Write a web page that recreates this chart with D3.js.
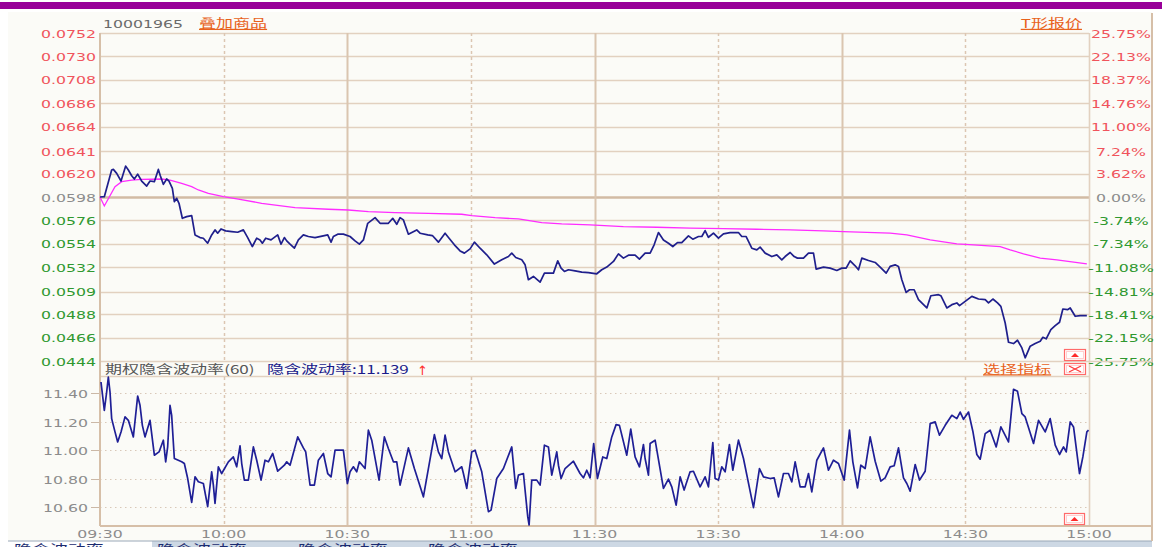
<!DOCTYPE html>
<html><head><meta charset="utf-8">
<script src="https://cdn.jsdelivr.net/npm/d3@7"></script>
<style>html,body{margin:0;padding:0;background:#fff;overflow:hidden}</style>
</head><body><svg id="c" width="1162" height="547"></svg>
<script>
// ---------- data ----------
const timeTickMinutes = [0,30,60,90,120,150,180,210,240];
const timeTickLabels = ["09:30","10:00","10:30","11:00","11:30","13:30","14:00","14:30","15:00"];
const priceTickLabels = ["0.0752","0.0730","0.0708","0.0686","0.0664","0.0641","0.0620","0.0598","0.0576","0.0554","0.0532","0.0509","0.0488","0.0466","0.0444"];
const pctTickLabels = ["25.75%","22.13%","18.37%","14.76%","11.00%","7.24%","3.62%","0.00%","-3.74%","-7.34%","-11.08%","-14.81%","-18.41%","-22.15%","-25.75%"];
const ivTickLabels = ["11.40","11.20","11.00","10.80","10.60"];
const priceRange = [0.0444, 0.0752];
const ivLast = "11.139";

// [minute since 09:30 (trading time), price]
const price = [[0,0.0598],[1.05,0.05983],[2.83,0.06233],[3.24,0.06239],[4.05,0.06202],[5.1,0.0613],[6.23,0.0627],[6.88,0.06233],[7.69,0.0618],[8.33,0.06149],[9.14,0.06195],[10.11,0.0613],[11.33,0.06083],[12.14,0.0613],[13.19,0.06124],[14.16,0.06239],[14.64,0.0618],[15.37,0.06099],[16.18,0.06149],[16.75,0.0613],[17.56,0.06061],[18.04,0.05936],[18.61,0.05968],[19.17,0.05921],[19.98,0.0578],[21.04,0.05796],[22.25,0.05805],[23.06,0.05624],[24.27,0.05599],[25.08,0.05593],[26.13,0.05546],[27.1,0.05624],[27.91,0.05671],[28.56,0.0564],[29.37,0.0568],[30.5,0.05662],[31.96,0.05655],[33.41,0.05649],[34.79,0.05671],[35.84,0.05599],[36.97,0.05515],[38.03,0.05593],[38.83,0.05577],[39.4,0.05546],[40.21,0.05593],[41.5,0.05577],[43.12,0.05624],[43.93,0.05537],[44.74,0.05599],[45.31,0.05568],[46.12,0.05537],[47.17,0.05499],[48.14,0.05577],[49.35,0.05624],[50.57,0.05609],[52.18,0.05599],[54.45,0.05618],[55.26,0.05624],[56.07,0.05556],[56.63,0.05609],[57.69,0.05631],[59.06,0.05631],[60.68,0.05609],[61.89,0.05568],[62.94,0.05537],[63.92,0.05577],[64.97,0.05733],[66.75,0.05786],[67.96,0.05733],[69.98,0.05733],[71.04,0.0578],[72.01,0.05724],[72.82,0.05786],[73.62,0.05765],[74.84,0.05631],[76.86,0.05671],[77.67,0.0564],[79.53,0.05624],[80.66,0.05618],[82.12,0.05556],[83.74,0.0564],[84.71,0.05593],[86.0,0.05531],[87.38,0.05474],[88.43,0.05453],[89.81,0.05493],[90.86,0.05556],[92.23,0.05499],[93.85,0.05437],[95.71,0.0535],[97.49,0.0539],[99.11,0.05421],[99.92,0.05453],[100.89,0.05412],[102.35,0.0539],[103.16,0.05343],[103.96,0.05203],[105.18,0.05234],[106.8,0.05181],[107.85,0.05265],[110.03,0.05265],[111.08,0.05381],[111.89,0.05312],[112.7,0.05281],[113.67,0.05297],[115.29,0.05287],[116.91,0.05275],[118.53,0.05269],[120.55,0.05259],[121.76,0.05297],[122.98,0.05322],[124.6,0.05375],[125.81,0.05446],[127.02,0.05406],[128.24,0.05434],[129.85,0.05434],[130.9,0.05396],[132.28,0.05453],[133.5,0.05453],[134.47,0.05531],[135.52,0.05646],[136.73,0.05577],[137.95,0.05546],[139.0,0.05515],[140.13,0.05552],[141.18,0.05552],[142.8,0.05615],[143.85,0.05584],[145.23,0.05609],[146.04,0.05609],[146.84,0.05665],[147.65,0.05602],[148.87,0.0564],[150.08,0.05593],[151.29,0.05634],[152.91,0.05646],[154.93,0.05646],[155.74,0.05609],[156.8,0.05609],[158.17,0.05499],[159.39,0.05484],[160.19,0.05509],[161.41,0.05453],[163.03,0.05421],[164.24,0.05437],[165.45,0.0539],[166.26,0.05421],[167.48,0.05459],[168.45,0.05421],[169.25,0.05406],[170.71,0.05406],[171.93,0.05453],[173.14,0.05453],[173.79,0.05303],[175.57,0.05322],[177.18,0.05312],[178.8,0.0529],[180.02,0.05312],[181.07,0.05312],[182.04,0.05381],[183.25,0.05334],[184.06,0.05297],[184.87,0.05406],[186.49,0.05384],[188.11,0.05365],[189.32,0.05322],[190.78,0.05265],[191.75,0.05328],[192.96,0.05343],[193.77,0.05328],[194.58,0.05203],[195.63,0.05084],[196.44,0.05109],[197.57,0.05109],[198.62,0.05016],[200.65,0.04938],[201.62,0.05053],[203.48,0.05063],[204.05,0.05053],[205.5,0.04938],[206.72,0.04969],[207.93,0.04985],[208.58,0.0496],[209.95,0.05],[211.57,0.05047],[213.19,0.05022],[214.81,0.05016],[215.61,0.04985],[216.67,0.05022],[217.8,0.04985],[218.61,0.04953],[219.66,0.04797],[220.47,0.04616],[221.68,0.04604],[222.65,0.04635],[223.71,0.04563],[224.51,0.0447],[225.73,0.04579],[226.94,0.04604],[228.16,0.04626],[228.8,0.04663],[229.61,0.04648],[230.74,0.04735],[231.8,0.04772],[232.85,0.04804],[233.66,0.04928],[234.79,0.04922],[235.44,0.04938],[236.65,0.0486],[237.86,0.04866],[239.48,0.04866]];

const avgPrice = [[0,0.0598],[1.05,0.05896],[3.64,0.06077],[5.26,0.06124],[7.69,0.06139],[10.11,0.06145],[14.97,0.06149],[16.99,0.06139],[19.82,0.06108],[22.25,0.06077],[23.87,0.06046],[26.29,0.06014],[29.94,0.05983],[33.58,0.05961],[39.24,0.05921],[47.33,0.0588],[55.42,0.05865],[60.27,0.05858],[65.13,0.05843],[71.6,0.05833],[79.69,0.05827],[87.78,0.05818],[90.21,0.05805],[95.87,0.05786],[101.54,0.05774],[107.2,0.0574],[112.05,0.05727],[118.93,0.05718],[127.02,0.05702],[135.11,0.05696],[143.2,0.05687],[151.29,0.05683],[159.39,0.05677],[167.48,0.05671],[175.57,0.05662],[180.42,0.05655],[191.75,0.0564],[195.79,0.05624],[201.46,0.05577],[207.93,0.0554],[211.97,0.05531],[218.45,0.05515],[220.87,0.05484],[224.11,0.05446],[228.16,0.05406],[232.2,0.0539],[239.48,0.05353]];

const impliedVol = [[0.24,11.477],[1.05,11.279],[1.62,11.407],[2.02,11.512],[2.43,11.407],[2.83,11.221],[3.64,11.128],[4.29,11.058],[5.1,11.128],[6.07,11.233],[6.88,11.209],[8.09,11.093],[9.14,11.379],[9.71,11.314],[10.28,11.174],[10.92,11.093],[12.14,11.209],[13.19,10.965],[14.32,10.988],[15.37,11.07],[15.94,10.919],[16.42,11.023],[16.99,11.314],[17.39,11.244],[18.04,10.942],[19.82,10.919],[20.47,10.907],[21.28,10.802],[22.25,10.635],[23.06,10.814],[23.87,10.779],[25.08,10.767],[26.13,10.605],[27.1,10.849],[27.51,10.756],[27.91,10.628],[28.72,10.884],[29.53,10.837],[31.15,10.919],[32.36,10.953],[33.17,10.884],[33.98,11.03],[34.39,10.907],[35.03,10.791],[36.0,10.791],[37.22,11.023],[38.03,10.93],[39.08,10.791],[40.05,10.93],[40.86,10.919],[41.91,10.977],[43.12,10.853],[44.74,10.895],[45.31,10.919],[46.12,10.895],[47.98,11.093],[49.35,11.016],[49.92,10.988],[50.97,10.756],[52.02,10.756],[52.99,10.93],[54.21,10.977],[55.26,10.837],[56.07,10.814],[57.04,11.0],[59.06,11.0],[60.03,10.767],[60.68,10.849],[61.49,10.884],[62.3,10.849],[62.94,10.919],[64.32,10.872],[65.13,11.14],[65.94,11.07],[67.72,10.791],[69.01,11.093],[69.98,11.012],[71.2,10.919],[72.01,10.919],[72.82,10.756],[74.84,11.016],[76.29,10.872],[78.48,10.674],[81.15,11.109],[82.12,10.988],[82.93,10.942],[83.74,11.105],[84.55,10.988],[86.17,10.849],[87.78,10.884],[88.19,10.837],[89.0,10.733],[90.21,10.988],[91.02,11.0],[92.64,10.849],[94.26,10.57],[94.9,10.581],[96.28,10.802],[97.9,10.872],[99.92,11.023],[100.89,10.733],[101.54,10.826],[102.75,10.837],[103.8,10.535],[104.13,10.477],[104.77,10.791],[105.99,10.791],[106.8,10.756],[107.85,11.035],[108.82,11.023],[109.63,10.826],[110.84,10.988],[111.25,10.895],[111.89,10.802],[112.86,10.872],[114.89,10.923],[116.5,10.837],[117.31,10.807],[118.12,10.86],[118.93,10.807],[119.8,11.047],[120.71,10.802],[122.01,10.953],[122.98,10.942],[124.19,11.093],[125.24,11.179],[126.05,11.174],[127.83,10.965],[128.8,11.147],[129.85,10.953],[130.91,10.884],[131.88,11.04],[132.28,10.942],[133.09,10.826],[133.5,11.047],[134.71,11.07],[136.73,10.733],[137.94,10.798],[138.75,10.744],[139.81,10.616],[140.78,10.814],[141.75,10.721],[143.2,10.849],[144.01,10.853],[145.63,10.744],[146.84,10.814],[147.65,10.744],[148.71,11.053],[149.27,10.802],[150.08,10.791],[150.89,10.884],[151.7,10.849],[152.75,11.04],[153.56,10.86],[154.94,11.07],[156.15,10.942],[158.58,10.598],[160.03,10.872],[161.0,10.814],[162.62,10.802],[163.59,10.807],[164.64,10.674],[165.86,10.837],[167.07,10.837],[167.88,10.779],[168.69,10.919],[169.9,10.744],[171.12,10.744],[171.93,10.837],[172.73,10.709],[173.95,10.93],[175.57,11.016],[176.78,10.86],[177.99,10.93],[179.21,10.907],[180.58,10.791],[181.88,11.14],[182.69,10.919],[183.82,10.737],[184.63,10.895],[185.68,10.872],[186.89,11.093],[188.11,10.923],[189.48,10.784],[190.53,10.807],[191.75,10.884],[192.72,10.891],[193.77,11.016],[194.98,10.807],[195.79,10.767],[196.6,10.714],[197.82,10.9],[198.87,10.791],[200.24,10.853],[201.46,11.186],[202.67,11.198],[203.72,11.105],[205.1,11.174],[206.72,11.244],[207.93,11.221],[208.74,11.267],[209.55,11.216],[210.76,11.267],[211.81,11.133],[212.78,10.97],[213.59,10.937],[214.81,11.116],[216.02,11.14],[217.48,11.023],[218.61,11.163],[220.47,11.058],[221.68,11.426],[222.65,11.412],[223.71,11.256],[224.51,11.233],[226.54,11.047],[227.75,11.209],[229.37,11.128],[230.58,11.221],[231.8,11.035],[232.85,10.97],[233.82,11.023],[234.47,10.988],[235.44,11.198],[236.25,11.163],[237.7,10.837],[238.51,10.953],[239.48,11.128],[239.89,11.14]];

const bottomTabs = ["隐含波动率","隐含波动率","隐含波动率","隐含波动率"];

// ---------- layout ----------
const L = 100, R = 1089, T = 33, B = 361, LT = 377, LB = 525;
const LAT = "'DejaVu Sans', Verdana, sans-serif";
const CJK = "'Noto Sans CJK SC', sans-serif";
const SX = 1.43;
const GRID = "#e2d1c0", GRIDV = "#dac5b0", FRAME = "#d6bfa8";
const RED = "#f0545c", GREEN = "#2f982f", GREY = "#8c8c8c";

const svg = d3.select("#c");
const x = d3.scaleLinear().domain([0, 240]).range([L, R]);
const yP = d3.scaleLinear().domain(priceRange).range([B, T]);
const yV = d3.scaleLinear().domain(d3.extent(impliedVol, d => d[1])).range([LB, LT]);

function txt(px, py, s, o = {}) {
  const g = svg.append("g").attr("transform", `translate(${px},${py}) scale(${o.sx || SX},1)`);
  const t = g.append("text")
    .attr("text-anchor", o.anchor || "start")
    .attr("font-family", o.family || LAT)
    .attr("font-size", o.size || 11)
    .attr("fill", o.fill || GREY)
    .text(s);
  if (o.underline) t.style("text-decoration", "underline");
  return t;
}

// backgrounds
svg.append("rect").attr("x", 0).attr("y", 0).attr("width", 1162).attr("height", 547).attr("fill", "#fff");
svg.append("rect").attr("x", 0).attr("y", 2).attr("width", 1162).attr("height", 7).attr("fill", "#990099");
svg.append("rect").attr("x", 8).attr("y", 12).attr("width", 1144).attr("height", 529).attr("fill", "#fbfbf7");

// bottom tabs strip (cut off by the window edge, as in the reference)
svg.append("rect").attr("x", 8).attr("y", 541).attr("width", 144).attr("height", 6).attr("fill", "#ffffff");
svg.append("rect").attr("x", 152).attr("y", 541).attr("width", 1000).attr("height", 6).attr("fill", "#cdd8e4");
svg.append("line").attr("x1", 8).attr("x2", 1152).attr("y1", 541).attr("y2", 541).attr("stroke", "#9aa8b8").attr("stroke-width", 1);
const tabX = [14, 157, 298, 428];
bottomTabs.forEach((s, i) => txt(tabX[i], 554, s, {family: CJK, size: 13, fill: "#1c2c70", sx: 1.38}));

// ---------- main panel grid ----------
priceTickLabels.forEach((lab, i) => {
  const yy = Math.round(yP(+lab)) + 0.5;
  svg.append("line").attr("x1", L).attr("x2", R).attr("y1", yy).attr("y2", yy)
    .attr("stroke", i === 7 ? "#d2bba4" : GRID).attr("stroke-width", i === 7 ? 2.4 : 1.4);
});
svg.append("line").attr("x1", L).attr("x2", R).attr("y1", LT - 0.5).attr("y2", LT - 0.5).attr("stroke", GRID).attr("stroke-width", 1.4);

// vertical grid
timeTickMinutes.forEach((m, i) => {
  if (i === 0 || i === timeTickMinutes.length - 1) return;
  const xx = Math.round(x(m)) + 0.5;
  const solid = (m % 60 === 0);
  [[T, B], [LT, LB]].forEach(([a, b]) => {
    svg.append("line").attr("x1", xx).attr("x2", xx).attr("y1", a).attr("y2", b)
      .attr("stroke", solid ? GRIDV : "#dcc6b2").attr("stroke-width", solid ? 2 : 1.5)
      .attr("stroke-dasharray", solid ? null : "3,3");
  });
  if (solid) svg.append("line").attr("x1", xx).attr("x2", xx).attr("y1", B).attr("y2", LT)
      .attr("stroke", GRIDV).attr("stroke-width", 2);
});

// lower dotted horizontal grid + labels
ivTickLabels.forEach(lab => {
  const yy = Math.round(yV(+lab)) + 0.5;
  svg.append("line").attr("x1", L).attr("x2", R).attr("y1", yy).attr("y2", yy)
    .attr("stroke", "#d9c8b8").attr("stroke-width", 1).attr("stroke-dasharray", "1.5,3.5");
  svg.append("line").attr("x1", 91).attr("x2", L).attr("y1", yy).attr("y2", yy)
    .attr("stroke", "#cbb8a6").attr("stroke-width", 1);
  txt(88, yy + 4, lab, {anchor: "end", fill: GREY});
});

// frame lines
svg.append("line").attr("x1", L).attr("x2", L).attr("y1", T).attr("y2", LB + 1).attr("stroke", FRAME).attr("stroke-width", 2);
svg.append("line").attr("x1", R + 0.5).attr("x2", R + 0.5).attr("y1", T).attr("y2", LB + 1).attr("stroke", GRID).attr("stroke-width", 1.6);
svg.append("line").attr("x1", L).attr("x2", 1152).attr("y1", LB + 1).attr("y2", LB + 1).attr("stroke", FRAME).attr("stroke-width", 2);
svg.append("line").attr("x1", 1152).attr("x2", 1152).attr("y1", 13).attr("y2", 541).attr("stroke", FRAME).attr("stroke-width", 2);

// ---------- lines ----------
const lineP = d3.line().x(d => x(d[0])).y(d => yP(d[1]));
svg.append("path").datum(avgPrice).attr("d", lineP).attr("fill", "none")
  .attr("stroke", "#ff2cff").attr("stroke-width", 1.3);
svg.append("path").datum(price).attr("d", lineP).attr("fill", "none")
  .attr("stroke", "#1f1f8c").attr("stroke-width", 1.7).attr("stroke-linejoin", "round");
const lineV = d3.line().x(d => x(d[0])).y(d => yV(d[1]));
svg.append("path").datum(impliedVol).attr("d", lineV).attr("fill", "none")
  .attr("stroke", "#1f1f96").attr("stroke-width", 1.7).attr("stroke-linejoin", "round");

// ---------- axis labels ----------
priceTickLabels.forEach((lab, i) => {
  const yy = yP(+lab) + 4.5;
  const col = i < 7 ? RED : (i === 7 ? GREY : GREEN);
  txt(96, yy, lab, {anchor: "end", fill: col});
  txt(1121, yy, pctTickLabels[i], {anchor: "middle", fill: col});
});
svg.append("line").attr("x1", R).attr("x2", 1152).attr("y1", Math.round(yP(0.0444)) + 0.5).attr("y2", Math.round(yP(0.0444)) + 0.5)
  .attr("stroke", GRID).attr("stroke-width", 1.4);

timeTickMinutes.forEach((m, i) => txt(x(m), 538, timeTickLabels[i], {anchor: "middle", fill: GREY}));

// ---------- header texts ----------
txt(103, 27.5, "10001965", {fill: "#6a6a6a"});
txt(199, 28, "叠加商品", {family: CJK, size: 12, fill: "#e8621c", underline: true, sx: 1.42});
txt(1082, 28, "T形报价", {family: CJK, size: 12, fill: "#e8621c", underline: true, anchor: "end", sx: 1.42});

txt(105, 373.5, "期权隐含波动率(60)", {family: CJK, size: 12, fill: "#555", sx: 1.42});
txt(267, 373.5, "隐含波动率:" + ivLast, {family: CJK, size: 12, fill: "#1a1a8a", sx: 1.42});
txt(417, 374.5, "↑", {family: LAT, size: 13, fill: "#ff3030", sx: 1});
txt(983, 373.5, "选择指标", {family: CJK, size: 12, fill: "#e8621c", underline: true, sx: 1.42});

// ---------- small buttons ----------
function btn(bx, by, w, h, kind) {
  svg.append("rect").attr("x", bx + 0.5).attr("y", by + 0.5).attr("width", w).attr("height", h)
    .attr("fill", "#fff").attr("stroke", "#ff6a6a").attr("stroke-width", 1.2);
  svg.append("rect").attr("x", bx + 2.5).attr("y", by + 2.5).attr("width", w - 4).attr("height", h - 4)
    .attr("fill", "none").attr("stroke", "#ffd0d0").attr("stroke-width", 1);
  const cx = bx + w / 2 + 0.5, cy = by + h / 2 + 0.5;
  if (kind === "up") {
    svg.append("path").attr("d", `M${cx - 4},${cy + 2} L${cx + 4},${cy + 2} L${cx},${cy - 2} Z`).attr("fill", "#ff2a2a");
  } else {
    svg.append("path").attr("d", `M${bx + 5},${by + 3} L${bx + w - 4},${by + h - 2} M${bx + w - 4},${by + 3} L${bx + 5},${by + h - 2}`)
      .attr("stroke", "#ff3a3a").attr("stroke-width", 1.3).attr("fill", "none");
  }
}
btn(1064, 349, 21, 11, "up");
btn(1064, 363, 21, 11, "x");
btn(1064, 513, 20, 11, "up");
</script></body></html>
